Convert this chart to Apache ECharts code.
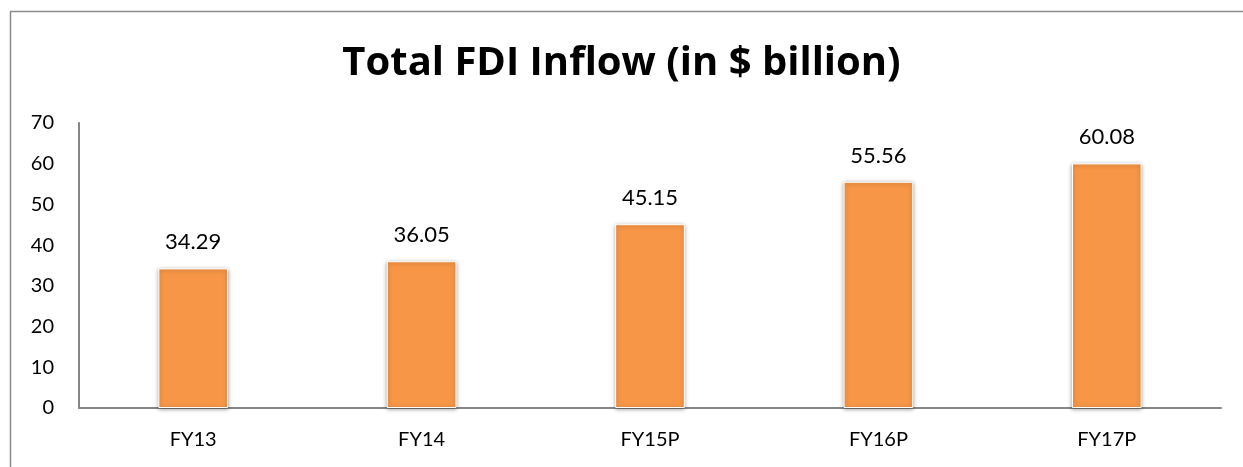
<!DOCTYPE html>
<html>
<head>
<meta charset="utf-8">
<script src="https://cdn.jsdelivr.net/npm/echarts@6/dist/echarts.min.js"></script>
<style>
  html, body { margin: 0; padding: 0; background: #fff; }
  #chart { width: 1243px; height: 467px; }
</style>
</head>
<body>
<div id="chart"></div>
<script>
// 年度
const categories = ['FY13', 'FY14', 'FY15P', 'FY16P', 'FY17P'];
// FDI 流入 ($ billion)
const fdiValues = [34.29, 36.05, 45.15, 55.56, 60.08];
// y轴刻度
const yTicks = [0, 10, 20, 30, 40, 50, 60, 70];

const font = 'Lato, "Open Sans", sans-serif';

const chart = echarts.init(document.getElementById('chart'));

chart.setOption({
  animation: false,
  backgroundColor: '#fff',
  // 外框
  graphic: [
    {
      type: 'rect',
      shape: { x: 10.5, y: 11.5, width: 1400, height: 600 },
      style: { fill: 'none', stroke: '#8c8c8c', lineWidth: 1.5 },
      silent: true
    }
  ],
  title: {
    text: 'Total FDI Inflow (in $ billion)',
    left: 'center',
    top: 39,
    textStyle: {
      fontFamily: '"Open Sans", sans-serif',
      fontWeight: 'bold',
      fontSize: 40,
      color: '#000'
    }
  },
  grid: {
    left: 79,
    right: 22,
    top: 123,
    bottom: 59
  },
  xAxis: {
    type: 'category',
    data: categories,
    axisLine: { lineStyle: { color: '#868686', width: 2 } },
    axisTick: { show: false },
    axisLabel: {
      fontFamily: font,
      fontSize: 20,
      color: '#000',
      margin: 22
    }
  },
  yAxis: {
    type: 'value',
    min: yTicks[0],
    max: yTicks[yTicks.length - 1],
    interval: 10,
    splitLine: { show: false },
    axisLine: { show: true, lineStyle: { color: '#868686', width: 2 } },
    axisTick: { show: false },
    axisLabel: {
      fontFamily: font,
      fontSize: 20,
      color: '#000',
      margin: 25
    }
  },
  series: [
    {
      type: 'bar',
      data: fdiValues,
      barWidth: '30.5%',
      itemStyle: {
        color: '#F79646',
        borderColor: '#fff',
        borderWidth: 1,
        shadowBlur: 4,
        shadowColor: 'rgba(0,0,0,0.35)',
        shadowOffsetX: 0,
        shadowOffsetY: 1
      },
      label: {
        show: true,
        position: 'top',
        distance: 15,
        fontFamily: font,
        fontSize: 22,
        color: '#000',
        formatter: (p) => p.value.toFixed(2)
      }
    }
  ]
});
</script>
</body>
</html>
